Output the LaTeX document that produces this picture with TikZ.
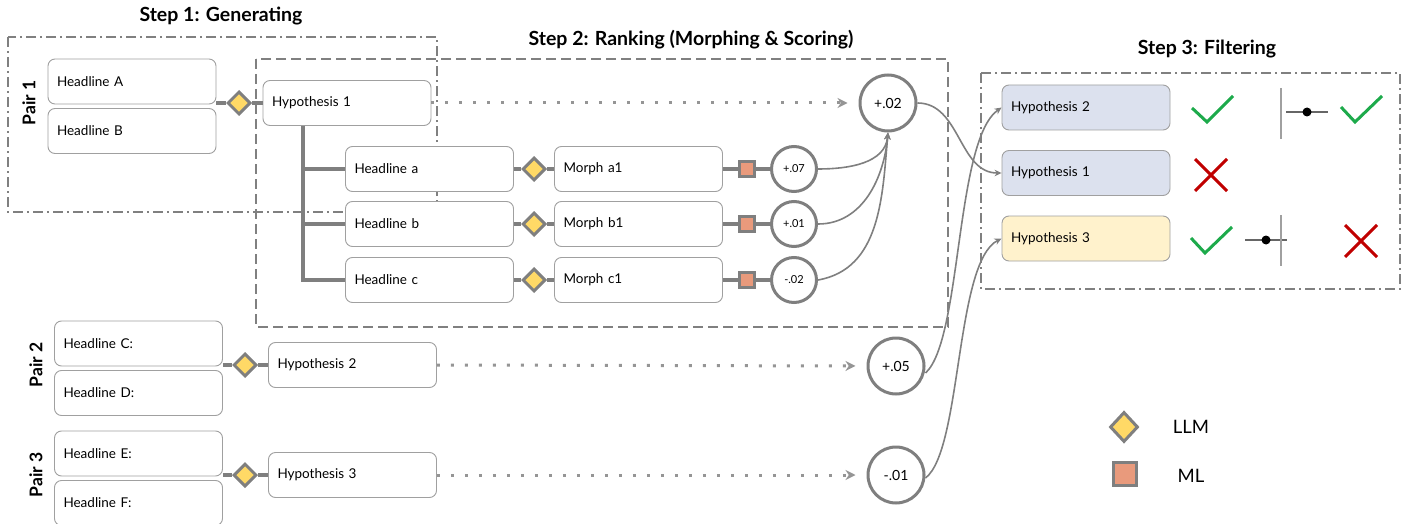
\documentclass[tikz,border=0pt]{standalone}
\usepackage{fontspec}
\setmainfont{Lato}
\usetikzlibrary{shapes.geometric,arrows.meta}
\definecolor{lgray}{HTML}{7F7F7F}
\definecolor{bgray}{HTML}{A0A0A0}
\definecolor{fgray}{HTML}{808080}
\definecolor{dgray}{HTML}{959595}
\definecolor{llmyel}{HTML}{FFD966}
\definecolor{mlsal}{HTML}{E99A7C}
\definecolor{hblue}{HTML}{DCE1EE}
\definecolor{hyel}{HTML}{FFF2CC}
\definecolor{okgreen}{HTML}{1DAA4B}
\definecolor{nored}{HTML}{C00000}
\tikzset{
  box/.style={draw=bgray, line width=0.9pt, rounded corners=7pt, fill=white,
    minimum width=168pt, minimum height=45pt, text width=150pt, align=left,
    inner xsep=9pt, font=\fontsize{13.5}{15}\selectfont},
  llm/.style={diamond, draw=lgray, line width=3pt, fill=llmyel,
    minimum width=23pt, minimum height=23pt, inner sep=0pt},
  mlsq/.style={rectangle, draw=lgray, line width=3pt, fill=mlsal,
    minimum size=15pt, inner sep=0pt},
  bigscore/.style={circle, draw=lgray, line width=3pt, fill=white,
    minimum size=56pt, inner sep=0pt, font=\fontsize{14}{16}\selectfont},
  smallscore/.style={circle, draw=lgray, line width=3pt, fill=white,
    minimum size=45pt, inner sep=0pt, font=\fontsize{11}{13}\selectfont},
  conn/.style={draw=lgray, line width=3.3pt},
  curv/.style={draw=lgray, line width=1.6pt},
  curvarr/.style={curv, -{Stealth[length=7pt,width=6.5pt]}},
  dotarr/.style={draw=dgray, line width=3pt, dash pattern=on 3pt off 11pt,
    -{Stealth[length=10pt,width=10pt]}, shorten >=11pt},
  dashdotframe/.style={draw=fgray, line width=1.8pt,
    dash pattern=on 10pt off 4pt on 2pt off 4pt},
  dashframe/.style={draw=fgray, line width=1.8pt, dash pattern=on 10pt off 5pt},
  steptitle/.style={font=\fontsize{19.5}{22}\selectfont\bfseries},
  pairlabel/.style={font=\fontsize{17.5}{20}\selectfont\bfseries, rotate=90},
  legendtext/.style={font=\fontsize{18.5}{21}\selectfont},
  ok/.style={draw=okgreen, line width=3pt},
  no/.style={draw=nored, line width=3pt},
  tickv/.style={draw=bgray, line width=1.8pt},
  tickh/.style={draw=lgray!80!black, line width=1.8pt},
}
\begin{document}
\begin{tikzpicture}[x=1pt,y=1pt]
\useasboundingbox (0,0) rectangle (1410,-524);

% frames
\draw[dashdotframe] (8,-37) rectangle (437,-212);
\draw[dashframe] (256,-59) rectangle (948,-327);
\draw[dashdotframe] (981,-73) rectangle (1400,-289);

% titles
\node[steptitle] (t1) at (221,-16) {Step 1: Generating};
\node[steptitle] (t2) at (691,-40) {Step 2: Ranking (Morphing \& Scoring)};
\node[steptitle] (t3) at (1207,-49) {Step 3: Filtering};

% pair labels
\node[pairlabel] (p1) at (29,-103) {Pair 1};
\node[pairlabel] (p2) at (36,-365) {Pair 2};
\node[pairlabel] (p3) at (36,-475) {Pair 3};

% pair 1
\node[box] (hA) at (132,-81.5) {Headline A};
\node[box] (hB) at (132,-131) {Headline B};
\node[llm] (d1) at (239,-103) {};
\node[box] (h1) at (347,-103) {Hypothesis 1};

% morph rows
\node[box] (ha) at (429.5,-169) {Headline a};
\node[box] (hb) at (429.5,-224) {Headline b};
\node[box] (hc) at (429.5,-280) {Headline c};
\node[llm] (da) at (534,-169) {};
\node[llm] (db) at (534,-224) {};
\node[llm] (dc) at (534,-280) {};
\node[box] (ma) at (638.5,-169) {Morph a1};
\node[box] (mb) at (638.5,-224) {Morph b1};
\node[box] (mc) at (638.5,-280) {Morph c1};
\node[mlsq] (qa) at (747,-169) {};
\node[mlsq] (qb) at (747,-224) {};
\node[mlsq] (qc) at (747,-280) {};
\node[smallscore] (sa) at (794,-169) {+.07};
\node[smallscore] (sb) at (794,-224) {+.01};
\node[smallscore] (sc) at (794,-280) {-.02};
\node[bigscore] (c02) at (888,-103) {+.02};

% pair 2
\node[box] (hC) at (138.5,-343.5) {Headline C:};
\node[box] (hD) at (138.5,-393) {Headline D:};
\node[llm] (d2) at (245,-365) {};
\node[box] (h2) at (352.5,-365) {Hypothesis 2};
\node[bigscore] (c05) at (896,-366) {+.05};

% pair 3
\node[box] (hE) at (138.5,-453.5) {Headline E:};
\node[box] (hF) at (138.5,-503) {Headline F:};
\node[llm] (d3) at (245,-475) {};
\node[box] (h3) at (352.5,-475) {Hypothesis 3};
\node[bigscore] (c01) at (896,-475) {-.01};

% step 3 boxes
\node[box, fill=hblue] (s2) at (1086,-107.5) {Hypothesis 2};
\node[box, fill=hblue] (s1) at (1086,-173) {Hypothesis 1};
\node[box, fill=hyel] (s3) at (1086,-238.5) {Hypothesis 3};

% legend
\node[llm, minimum width=28pt, minimum height=30pt] (lg1) at (1124,-427) {};
\node[legendtext] (lt1) at (1191,-427) {LLM};
\node[mlsq, minimum size=23pt] (lg2) at (1125,-474) {};
\node[legendtext] (lt2) at (1191,-476) {ML};

% connectors step 1
\draw[conn] (d1.west -| hA.east) -- (d1) -- (h1);
\draw[conn] (d2.west -| hC.east) -- (d2) -- (h2);
\draw[conn] (d3.west -| hE.east) -- (d3) -- (h3);

% tree
\draw[conn] ([xshift=-44pt]h1.south) |- (ha.west);
\draw[conn] ([xshift=-44pt]h1.south) |- (hb.west);
\draw[conn] ([xshift=-44pt]h1.south) |- (hc.west);

% morph rows connectors
\foreach \r in {a,b,c}{
  \draw[conn] (h\r) -- (d\r) -- (m\r);
  \draw[conn] (m\r) -- (q\r) -- (s\r);
}

% small scores to big
\draw[curvarr] (sa.east) to[out=0,in=-95] (c02.south);
\draw[curvarr] (sb.east) to[out=0,in=-95] (c02.south);
\draw[curvarr] (sc.east) to[out=10,in=-95] (c02.south);

% dotted arrows
\draw[dotarr] (h1.east) -- (c02.west);
\draw[dotarr] (h2.east) -- (c05.west);
\draw[dotarr] (h3.east) -- (c01.west);

% to step 3
\draw[curvarr] (c02.east) to[out=0,in=180] (s1.west);
\draw[curvarr] ([yshift=-7pt]c05.east) .. controls (962,-340) and (955,-140) .. (s2.west);
\draw[curvarr] ([yshift=-3pt]c01.east) .. controls (962,-450) and (955,-262) .. (s3.west);

% filtering marks
\draw[ok] (1192,-108) -- (1207,-122) -- (1233,-96);
\draw[tickv] (1281,-88) -- (1281,-139);
\draw[tickh] (1286,-112) -- (1328,-112);
\fill[black] (1307,-112) circle (4.5pt);
\draw[ok] (1341,-107) -- (1355,-122) -- (1382,-96);

\draw[no] (1195,-159) -- (1227,-191);
\draw[no] (1195,-191) -- (1227,-159);

\draw[ok] (1191,-238) -- (1205,-253) -- (1232,-227);
\draw[tickh] (1245,-240) -- (1287,-240);
\fill[black] (1266,-240) circle (4.5pt);
\draw[tickv] (1281,-215) -- (1281,-266);
\draw[no] (1345,-225) -- (1377,-257);
\draw[no] (1345,-257) -- (1377,-225);
\end{tikzpicture}
\end{document}
